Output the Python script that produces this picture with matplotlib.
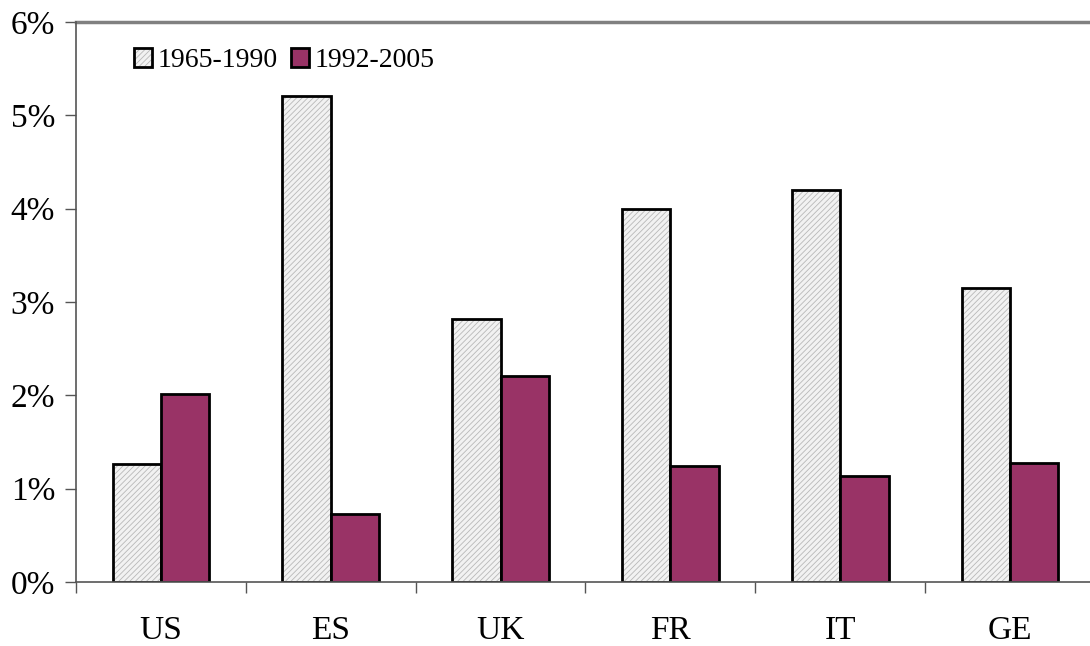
import numpy as np
import matplotlib.pyplot as plt
import matplotlib as mpl
from matplotlib.patches import Patch

countries = ['US', 'ES', 'UK', 'FR', 'IT', 'GE']
period_1965_1990 = [1.26, 5.21, 2.82, 4.00, 4.20, 3.15]
period_1992_2005 = [2.01, 0.73, 2.21, 1.24, 1.14, 1.28]

plt.rcParams['font.family'] = ['Liberation Serif', 'DejaVu Serif']
mpl.rcParams['hatch.linewidth'] = 0.6

fig = plt.figure(figsize=(10.9, 6.46), dpi=100)
ax = fig.add_axes([76 / 1090, 1 - 582 / 646, (1095 - 76) / 1090, (582 - 22) / 646])

x = np.arange(len(countries))
w = 0.285
light_fill = dict(facecolor='#f2f2f2', edgecolor='#b8b8b8', linewidth=0, hatch='//////')
# hatched fill first (hatch takes the edge colour), then a black outline on top
ax.bar(x - w / 2, period_1965_1990, w, **light_fill)
ax.bar(x - w / 2, period_1965_1990, w, facecolor='none', edgecolor='black', linewidth=2)
ax.bar(x + w / 2, period_1992_2005, w, color='#993366', edgecolor='black', linewidth=2)

ax.set_xlim(-0.5, len(countries) - 0.5)
ax.set_ylim(0, 6)
ax.set_yticks(range(7))
ax.set_yticklabels([f'{i}%' for i in range(7)], fontsize=24)
ax.set_xticks(x)
ax.set_xticklabels(countries, fontsize=24)
ax.set_xticks(np.arange(-0.5, len(countries)), minor=True)
ax.tick_params(axis='x', which='major', length=0, pad=24)
ax.tick_params(axis='x', which='minor', length=8, width=1, color='#555555')
ax.tick_params(axis='y', length=8, width=1, color='#555555', pad=7)

ax.axhline(6, color='#808080', linewidth=2.5, clip_on=False)
for s in ['top', 'right']:
    ax.spines[s].set_visible(False)
ax.spines['left'].set_color('#555555')
ax.spines['bottom'].set_color('#555555')
ax.spines['left'].set_linewidth(1.2)
ax.spines['bottom'].set_linewidth(1.2)

handles = [
    (Patch(**light_fill), Patch(facecolor='none', edgecolor='black', linewidth=2)),
    Patch(facecolor='#993366', edgecolor='black', linewidth=2),
]
ax.legend(handles, ['1965-1990', '1992-2005'], loc='upper left',
          bbox_to_anchor=(0.032, 0.998), ncol=2, frameon=False,
          fontsize=20, handlelength=0.65, handleheight=0.65, handletextpad=0.2,
          columnspacing=0.5)

plt.savefig('out.png', dpi=100)
